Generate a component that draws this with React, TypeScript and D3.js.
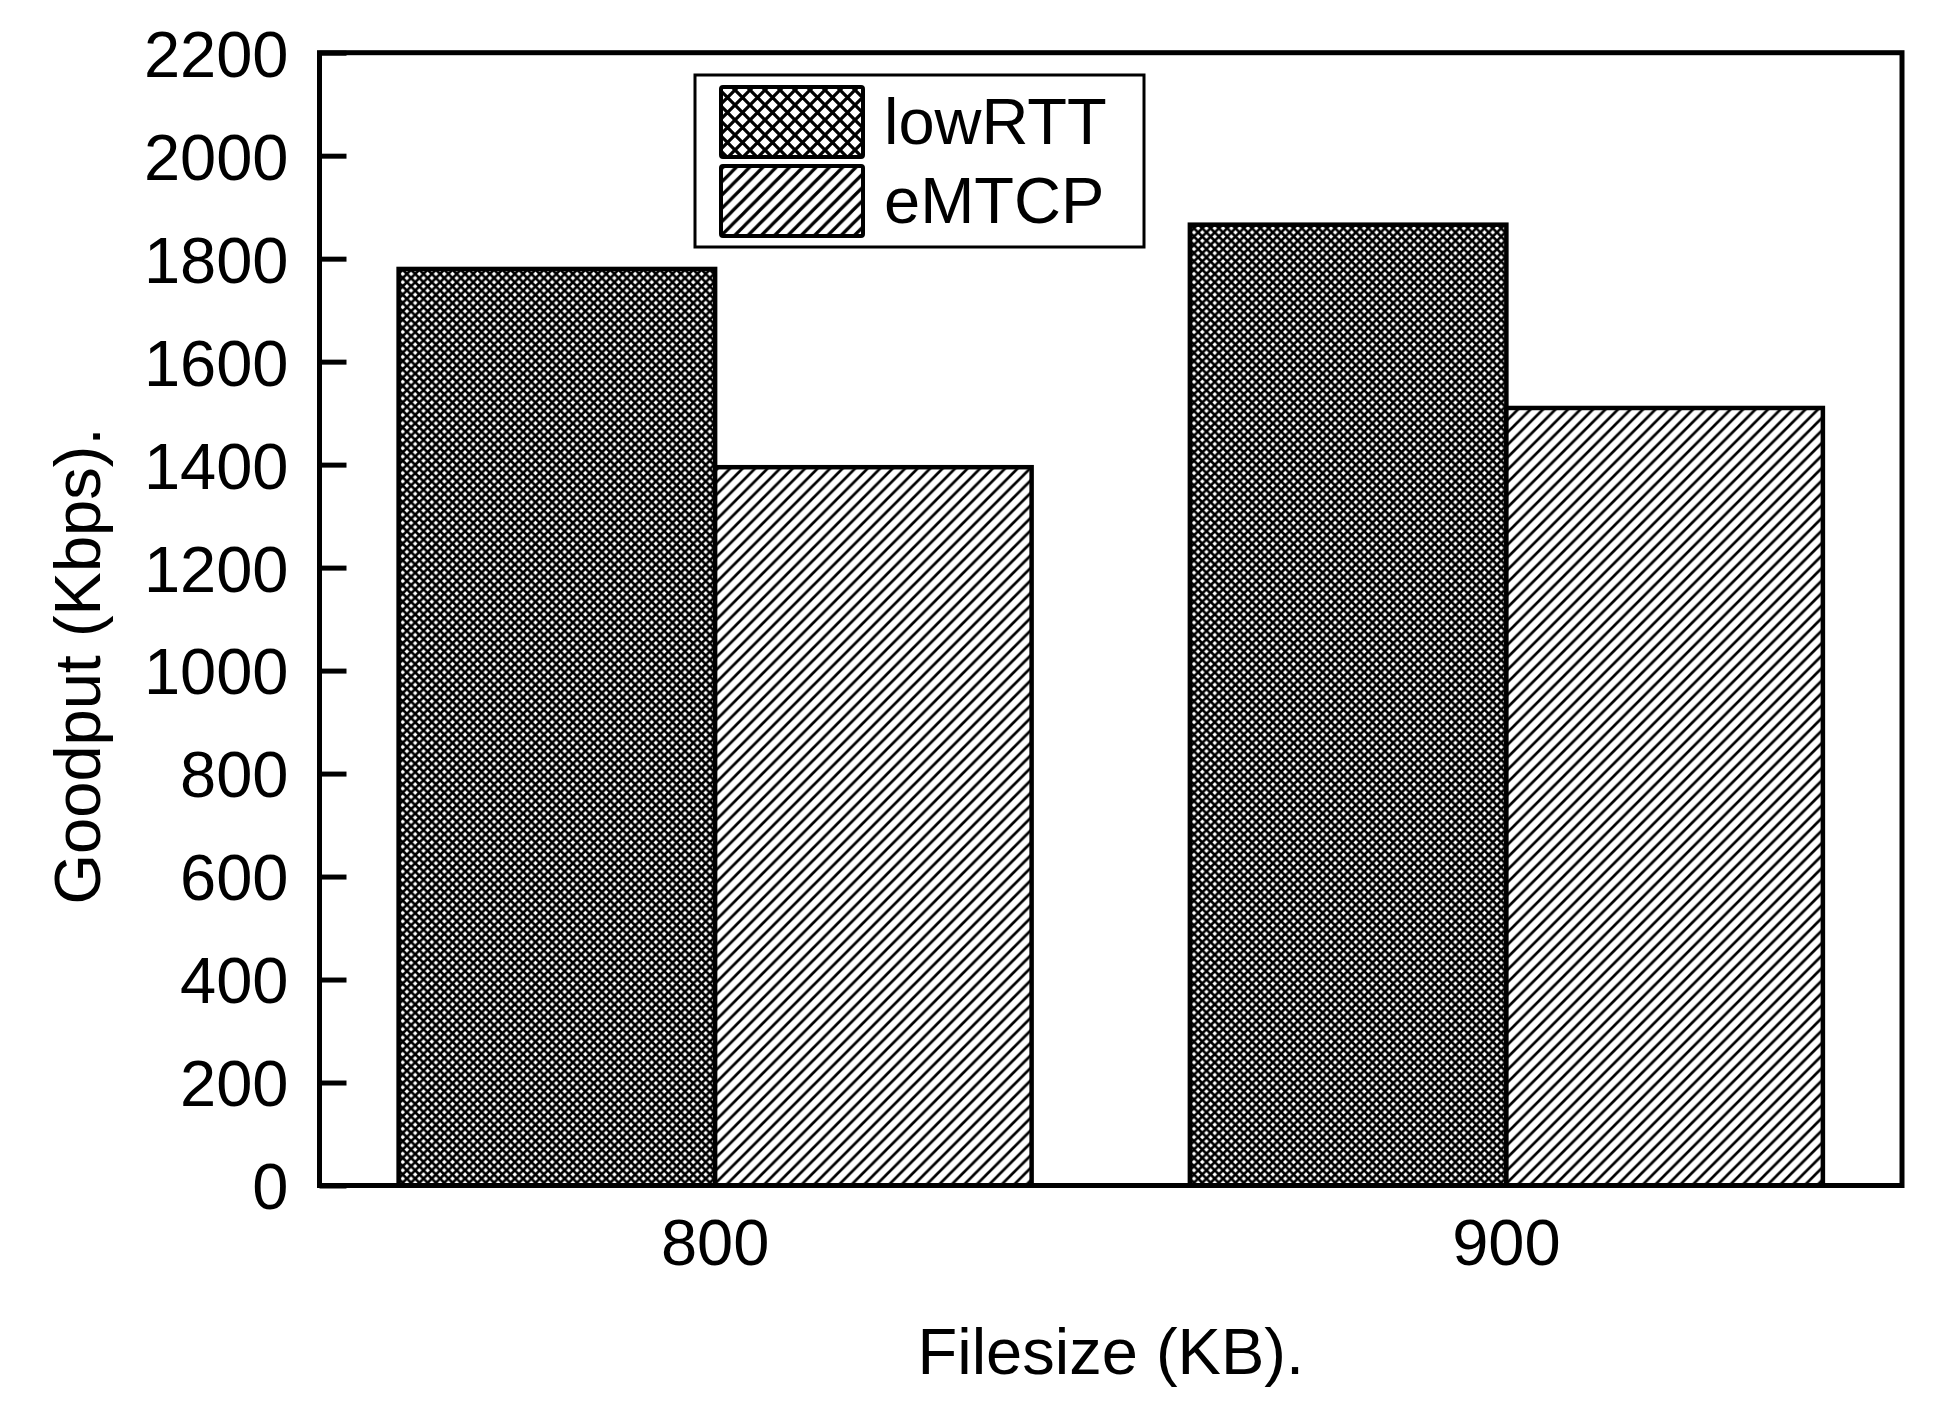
import { useEffect, useRef } from 'react';
import * as d3 from 'd3';

const categories = ['800', '900'];
const seriesNames = ['lowRTT', 'eMTCP'];
const lowRTT = [1780, 1866];
const eMTCP = [1395, 1510];
const yTicks = [0, 200, 400, 600, 800, 1000, 1200, 1400, 1600, 1800, 2000, 2200];

const FONT = '"Liberation Sans", Arial, Helvetica, sans-serif';

const Chart = () => {
  const svgRef = useRef<SVGSVGElement | null>(null);

  const width = 1947;
  const height = 1403;
  const left = 319.5;
  const right = 1902;
  const top = 52.7;
  const bottom = 1185.5;

  useEffect(() => {
    const svgElement = svgRef.current;
    if (!svgElement) return;

    const svg = d3.select(svgElement);
    svg.selectAll('*').remove();

    const values: Record<string, number[]> = { lowRTT, eMTCP };

    // hatch patterns
    const defs = svg.append('defs');
    const addCross = (id: string, p: number, sw: number) => {
      defs.append('pattern')
        .attr('id', id)
        .attr('patternUnits', 'userSpaceOnUse')
        .attr('width', p)
        .attr('height', p)
        .call(pt => {
          pt.append('rect').attr('width', p).attr('height', p).attr('fill', 'white');
          pt.append('path')
            .attr('d', `M${-p},${-p}L${2 * p},${2 * p}M${2 * p},${-p}L${-p},${2 * p}`)
            .attr('stroke', 'black')
            .attr('stroke-width', sw);
        });
    };
    const addDiag = (id: string, p: number, sw: number) => {
      defs.append('pattern')
        .attr('id', id)
        .attr('patternUnits', 'userSpaceOnUse')
        .attr('width', p)
        .attr('height', p)
        .call(pt => {
          pt.append('rect').attr('width', p).attr('height', p).attr('fill', 'white');
          pt.append('path')
            .attr('d', `M${-p},${p}L${p},${-p}M0,${2 * p}L${2 * p},0M0,${p}L${p},0`)
            .attr('stroke', 'black')
            .attr('stroke-width', sw);
        });
    };
    addCross('cross', 8.3, 2.6);
    addDiag('diag', 12.5, 2.7);
    addCross('crossLegend', 15, 3.2);
    addDiag('diagLegend', 13.3, 3.2);

    const fills: Record<string, string> = { lowRTT: 'url(#cross)', eMTCP: 'url(#diag)' };
    const legendFills: Record<string, string> = { lowRTT: 'url(#crossLegend)', eMTCP: 'url(#diagLegend)' };

    const x0 = d3.scaleBand().domain(categories).range([left, right]).paddingInner(0.2).paddingOuter(0.1);
    const x1 = d3.scaleBand().domain(seriesNames).range([0, x0.bandwidth()]);
    const y = d3.scaleLinear().domain([0, 2200]).range([bottom, top]);

    // bars
    const groups = svg.append('g')
      .selectAll('g')
      .data(categories)
      .join('g')
      .attr('transform', d => `translate(${x0(d)},0)`);

    groups.selectAll('rect')
      .data((_, i) => seriesNames.map(s => ({ key: s, value: values[s][i] })))
      .join('rect')
      .attr('x', d => x1(d.key)!)
      .attr('y', d => y(d.value))
      .attr('width', x1.bandwidth())
      .attr('height', d => y(0) - y(d.value))
      .attr('fill', d => fills[d.key])
      .attr('stroke', 'black')
      .attr('stroke-width', 4.5);

    // y axis, ticks pointing inward
    const yAxis = svg.append('g')
      .attr('transform', `translate(${left},0)`)
      .call(d3.axisLeft(y).tickValues(yTicks).tickFormat(d3.format('d')).tickSizeInner(-27).tickSizeOuter(0).tickPadding(31));
    yAxis.select('.domain').remove();
    yAxis.selectAll('line').attr('stroke', 'black').attr('stroke-width', 5);
    yAxis.selectAll('text')
      .attr('font-size', 65)
      .attr('font-family', FONT)
      .attr('fill', 'black')
      .attr('dy', '0.36em');

    // x tick labels
    svg.append('g')
      .selectAll('text')
      .data(categories)
      .join('text')
      .attr('x', d => x0(d)! + x0.bandwidth() / 2)
      .attr('y', 1265)
      .attr('text-anchor', 'middle')
      .attr('font-size', 65)
      .attr('font-family', FONT)
      .text(d => d);

    // frame
    svg.append('rect')
      .attr('x', left)
      .attr('y', top)
      .attr('width', right - left)
      .attr('height', bottom - top)
      .attr('fill', 'none')
      .attr('stroke', 'black')
      .attr('stroke-width', 5);

    // axis titles
    svg.append('text')
      .attr('x', (left + right) / 2)
      .attr('y', 1374)
      .attr('text-anchor', 'middle')
      .attr('font-size', 65)
      .attr('font-family', FONT)
      .text('Filesize (KB).');

    svg.append('text')
      .attr('transform', 'translate(100,666) rotate(-90)')
      .attr('text-anchor', 'middle')
      .attr('font-size', 65)
      .attr('font-family', FONT)
      .text('Goodput (Kbps).');

    // legend
    const legend = svg.append('g');
    legend.append('rect')
      .attr('x', 695)
      .attr('y', 75)
      .attr('width', 449)
      .attr('height', 172)
      .attr('fill', 'white')
      .attr('stroke', 'black')
      .attr('stroke-width', 3);

    const items = legend.selectAll('g')
      .data(seriesNames)
      .join('g')
      .attr('transform', (_, i) => `translate(0,${i * 79})`);

    items.append('rect')
      .attr('x', 721)
      .attr('y', 87)
      .attr('width', 142)
      .attr('height', 70)
      .attr('rx', 2)
      .attr('fill', d => legendFills[d])
      .attr('stroke', 'black')
      .attr('stroke-width', 4);

    items.append('text')
      .attr('x', 884)
      .attr('y', 144)
      .attr('font-size', 65)
      .attr('font-family', FONT)
      .text(d => d);
  }, []);

  return (
    <svg
      ref={svgRef}
      width={width}
      height={height}
      style={{ position: 'absolute', left: 0, top: 0, background: 'white', display: 'block' }}
    />
  );
};

export default function App() {
  return <Chart />;
}
